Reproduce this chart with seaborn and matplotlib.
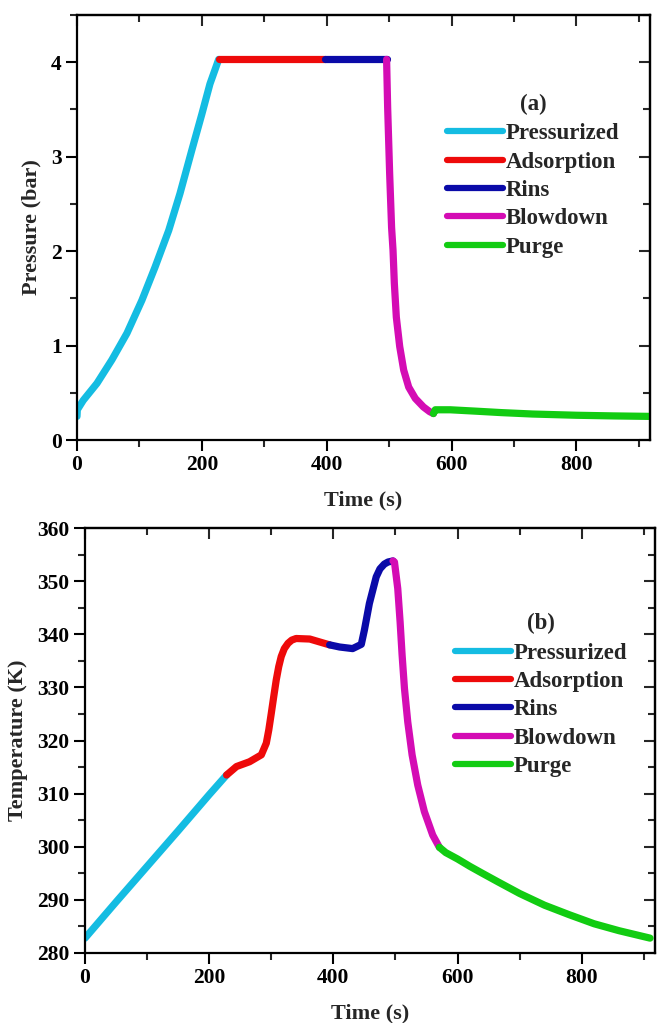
import numpy as np
import pandas as pd
import matplotlib
matplotlib.use("Agg")
import matplotlib.pyplot as plt
from matplotlib.lines import Line2D
from matplotlib.ticker import MultipleLocator
import seaborn as sns

# Cycle steps and their colours
steps = ["Pressurized", "Adsorption", "Rins", "Blowdown", "Purge"]
step_colors = ["#14BCE2", "#EE0A0A", "#0A0AA8", "#D40CB4", "#12CC12"]

# (a) Pressure profile, bar, per step
press_time = {
    "Pressurized": [0, 0.5, 10, 32, 56, 80, 104, 125, 147, 165, 184, 200, 213, 227],
    "Adsorption": [227, 300, 398],
    "Rins": [398, 450, 496],
    "Blowdown": [496, 497.7, 500.9, 504, 506.3, 508.4, 511.6, 517, 523.4, 531.4,
                 542, 555, 565, 571],
    "Purge": [571, 574, 598, 640, 680, 730, 800, 860, 918],
}
press_vals = {
    "Pressurized": [0.25, 0.32, 0.42, 0.60, 0.85, 1.13, 1.48, 1.83, 2.22, 2.61, 3.07, 3.45, 3.77, 4.03],
    "Adsorption": [4.03, 4.03, 4.03],
    "Rins": [4.03, 4.03, 4.03],
    "Blowdown": [4.03, 3.52, 2.82, 2.25, 2.01, 1.66, 1.30, 0.99, 0.74, 0.56,
                 0.44, 0.35, 0.30, 0.28],
    "Purge": [0.28, 0.32, 0.32, 0.305, 0.29, 0.275, 0.262, 0.255, 0.25],
}

# (b) Temperature profile, K, per step
temp_time = {
    "Pressurized": [0, 50, 100, 150, 200, 228],
    "Adsorption": [228, 244, 265, 284, 292, 296, 300, 304, 308, 312, 316, 321, 327,
                   333, 340, 362, 391, 394],
    "Rins": [394, 410, 431, 445, 450, 458, 469, 475, 482, 488, 496],
    "Blowdown": [496, 498.4, 503.7, 507.5, 510.7, 514.5, 519.8, 526.8, 535.9,
                 546.6, 560, 570.7],
    "Purge": [570.7, 581, 600, 620, 640, 665, 700, 740, 780, 820, 860, 910],
}
temp_vals = {
    "Pressurized": [282.8, 289.6, 296.3, 303.0, 309.8, 313.5],
    "Adsorption": [313.5, 315.1, 316.0, 317.3, 319.5, 322.0, 325.1, 328.3, 331.4, 333.9,
                   335.8, 337.3, 338.3, 338.9, 339.2, 339.1, 338.1, 338.0],
    "Rins": [338.0, 337.6, 337.3, 338.1, 340.8, 345.8, 350.8, 352.3, 353.2, 353.6, 353.8],
    "Blowdown": [353.8, 353.6, 348.6, 342.3, 336.1, 329.8, 323.5, 317.3, 311.6,
                 306.6, 302.2, 299.9],
    "Purge": [299.9, 298.9, 297.7, 296.3, 295.0, 293.4, 291.2, 289.0, 287.2, 285.5, 284.2, 282.8],
}

x_ticks = [0, 200, 400, 600, 800]
p_ticks = [0, 1, 2, 3, 4]
t_ticks = [280, 290, 300, 310, 320, 330, 340, 350, 360]


def to_frame(times, values, name):
    rows = []
    for s in steps:
        for t, v in zip(times[s], values[s]):
            rows.append({"Time": t, name: v, "Step": s})
    return pd.DataFrame(rows)


sns.set_theme(style="ticks")
plt.rcParams["font.family"] = ["Liberation Serif", "DejaVu Serif"]
plt.rcParams["font.weight"] = "bold"
plt.rcParams["axes.labelweight"] = "bold"

fig = plt.figure(figsize=(6.57, 10.23), dpi=100)
W, H = 657, 1023
ax_a = fig.add_axes([77 / W, 1 - 440 / H, 573 / W, 425 / H])
ax_b = fig.add_axes([85 / W, 1 - 953 / H, 570 / W, 425 / H])

palette = dict(zip(steps, step_colors))
text_font = {"family": "Liberation Serif", "weight": "bold", "size": 16.5}


def style_axes(ax, ymajor, yminor, ylim, ylabel, tag, anchor):
    ax.set_xlim(0, 918)
    ax.set_ylim(*ylim)
    ax.set_xticks(x_ticks)
    ax.set_yticks(ymajor)
    ax.xaxis.set_minor_locator(MultipleLocator(100))
    ax.yaxis.set_minor_locator(MultipleLocator(yminor))
    ax.tick_params(which="major", direction="out", length=8, width=1.5,
                   labelsize=15.5, colors="black", pad=3)
    ax.tick_params(which="minor", direction="out", length=5, width=1.5)
    for sp in ax.spines.values():
        sp.set_linewidth(1.6)
        sp.set_color("black")
        sp.set_visible(True)
    for lab in ax.get_xticklabels() + ax.get_yticklabels():
        lab.set_fontweight("bold")
    ax.set_xlabel("Time (s)", fontsize=16, fontweight="bold", labelpad=11)
    ax.set_ylabel(ylabel, fontsize=16, fontweight="bold", labelpad=7)

    top = ax.secondary_xaxis("top")
    top.set_xticks(x_ticks)
    top.xaxis.set_minor_locator(MultipleLocator(100))
    top.tick_params(which="major", direction="in", length=8, width=1.5, labeltop=False)
    top.tick_params(which="minor", direction="in", length=5, width=1.5)
    top.spines["top"].set_linewidth(1.6)

    right = ax.secondary_yaxis("right")
    right.set_yticks(ymajor)
    right.yaxis.set_minor_locator(MultipleLocator(yminor))
    right.tick_params(which="major", direction="in", length=8, width=1.5, labelright=False)
    right.tick_params(which="minor", direction="in", length=5, width=1.5)
    right.spines["right"].set_linewidth(1.6)

    handles = [Line2D([], [], color=c, lw=4.5, solid_capstyle="round") for c in step_colors]
    leg = ax.legend(handles, steps, title=tag, loc="upper left", bbox_to_anchor=anchor,
                    frameon=False, borderpad=0, borderaxespad=0, handlelength=2.45,
                    handletextpad=0.12, labelspacing=0.32,
                    prop=text_font, title_fontproperties=text_font)
    leg._legend_box.align = "center"
    leg._legend_box.sep = 6


df_p = to_frame(press_time, press_vals, "Pressure")
sns.lineplot(data=df_p, x="Time", y="Pressure", hue="Step", hue_order=steps,
             palette=palette, sort=False, estimator=None, linewidth=5.2,
             legend=False, ax=ax_a)

df_t = to_frame(temp_time, temp_vals, "Temperature")
sns.lineplot(data=df_t, x="Time", y="Temperature", hue="Step", hue_order=steps,
             palette=palette, sort=False, estimator=None, linewidth=5.2,
             legend=False, ax=ax_b)

for ax in (ax_a, ax_b):
    for ln in ax.get_lines():
        ln.set_solid_capstyle("round")
        ln.set_solid_joinstyle("round")

style_axes(ax_a, p_ticks, 0.5, (0, 4.5), "Pressure (bar)", "(a)", (0.646, 0.815))
style_axes(ax_b, t_ticks, 5, (280, 360), "Temperature (K)", "(b)", (0.649, 0.80))

fig.savefig("out.png", dpi=100, facecolor="white")
